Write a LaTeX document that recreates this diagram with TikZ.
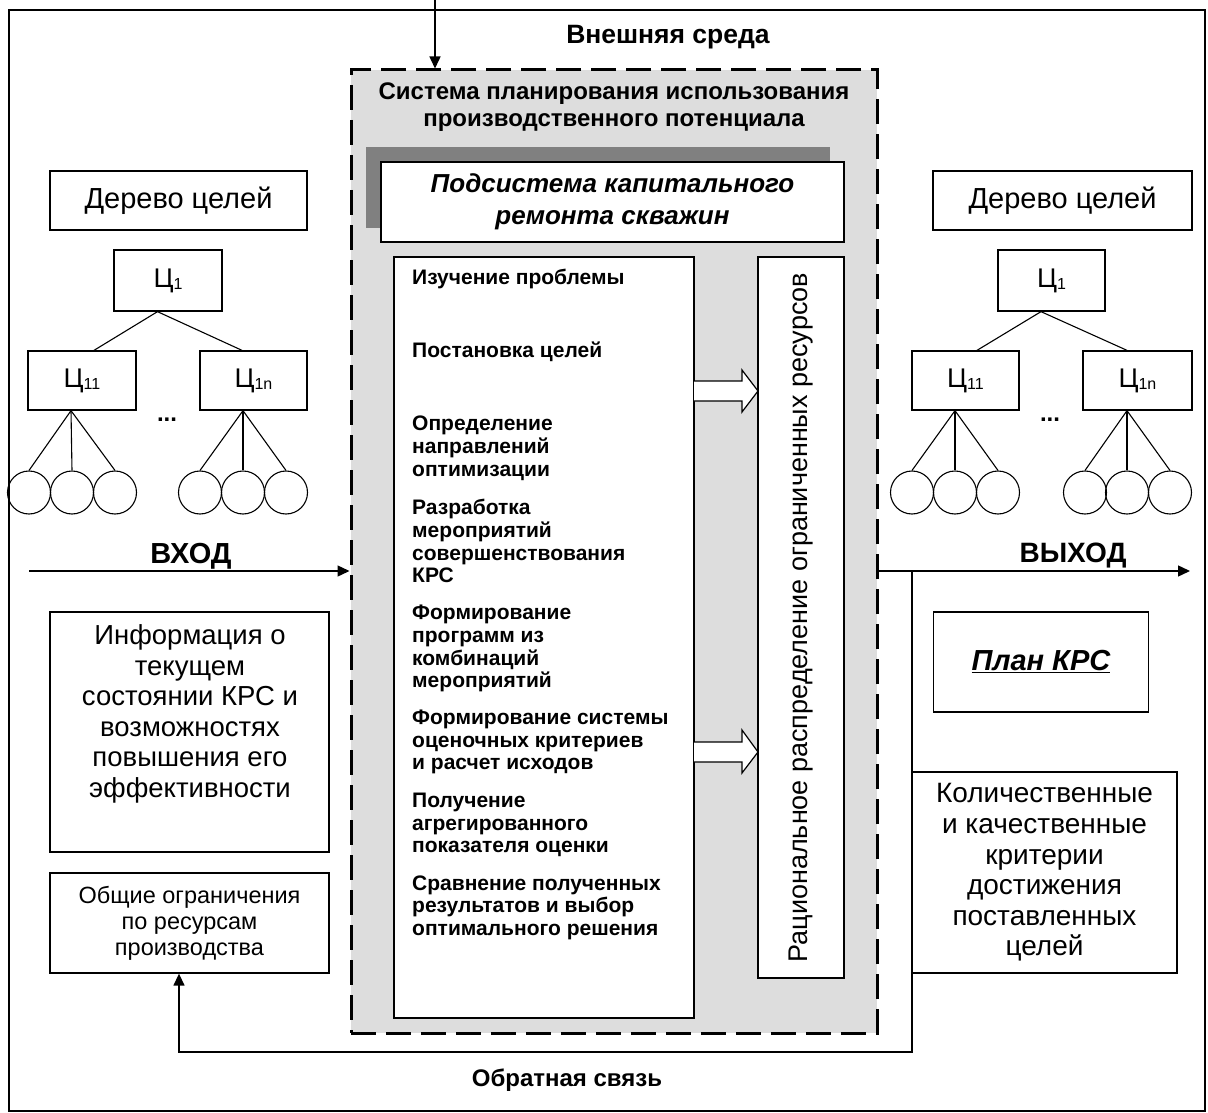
\documentclass[tikz,border=0pt]{standalone}
\usepackage{fontspec}
\setmainfont{Liberation Sans}
\usetikzlibrary{arrows.meta}
\newcommand\tsub[1]{\raisebox{-2pt}{\fontsize{16}{16}\selectfont #1}}
\definecolor{sysgray}{HTML}{DDDDDD}
\definecolor{shadowgray}{HTML}{808080}
\begin{document}
\begin{tikzpicture}[x=1pt,y=-1pt,
  box/.style={draw,line width=1.3pt,fill=white,inner sep=0pt,align=center},
  tree/.style={line width=1.1pt},
  arr/.style={line width=1.4pt,-{Triangle[length=12pt,width=11pt]}},
  leaf/.style={draw,circle,line width=1.1pt,minimum size=43pt,inner sep=0pt},
  cbox/.style={box,minimum height=60pt,font=\fontsize{27}{30}\selectfont},
  bigbold/.style={font=\fontsize{24}{27}\selectfont\bfseries,align=center,inner sep=0pt},
  listtxt/.style={anchor=west,inner sep=0pt,text height=15pt,text depth=0pt,font=\fontsize{21}{23}\selectfont\bfseries},
]
\useasboundingbox (0,0) rectangle (1208,1113);
% outer frame
\draw[line width=1.6pt] (9,10) rectangle (1205,1111);

% system (dashed)
\node[draw,dash pattern=on 25pt off 10pt,line width=3pt,fill=sysgray,
      minimum width=526pt,minimum height=963pt,inner sep=0pt] (sys) at (614,551.5) {};
\node[bigbold,font=\fontsize{26.5}{30}\selectfont\bfseries] (env) at (668,37) {Внешняя среда};
\node[bigbold] (title) at (614,107) {Система планирования использования\\производственного потенциала};

% subsystem with shadow
\fill[shadowgray] (366,147) rectangle (830,228);
\node[box,minimum width=463pt,minimum height=80pt,
      font=\fontsize{26}{32}\selectfont\bfseries\itshape] (sub) at (612.5,202) {Подсистема капитального\\ремонта скважин};

% list box and resources box
\node[box,minimum width=300pt,minimum height=761pt] (list) at (544,637.5) {};
\node[box,minimum width=86pt,minimum height=721pt] (res) at (801,617.5) {};
\node[rotate=90,inner sep=0pt,font=\fontsize{27}{30}\selectfont] (restxt) at (801,617.5)
  {Рациональное распределение ограниченных ресурсов};

\foreach \n/\yy/\t in {
  1/277/Изучение проблемы,
  2/350/Постановка целей,
  3/423/Определение,
  4/446/направлений,
  5/469/оптимизации,
  6/507/Разработка,
  7/530/мероприятий,
  8/553/совершенствования,
  9/575/КРС,
  10/612/Формирование,
  11/635/программ из,
  12/658/комбинаций,
  13/680/мероприятий,
  14/717/Формирование системы,
  15/740/оценочных критериев,
  16/762/и расчет исходов,
  17/800/Получение,
  18/823/агрегированного,
  19/845/показателя оценки,
  20/883/Сравнение полученных,
  21/905/результатов и выбор,
  22/928/оптимального решения}
  \node[listtxt] (l\n) at (412,\yy) {\t};

% block arrows
\draw[line width=1.2pt,fill=white] (694,381) -- (742,381) -- (742,370) -- (758,391)
   -- (742,412) -- (742,401) -- (694,401);
\draw[line width=1.2pt,fill=white] (694,742) -- (742,742) -- (742,730) -- (758,752)
   -- (742,773) -- (742,762) -- (694,762);

% left tree
\node[box,minimum width=257pt,minimum height=59pt,font=\fontsize{29}{32}\selectfont] (ltree) at (178.5,200.5) {Дерево целей};
\node[cbox,minimum width=108pt,minimum height=61pt] (lc1) at (168,280.5) {Ц\tsub{1}};
\node[cbox,minimum width=108pt,minimum height=59pt] (lc11) at (82,380.5) {Ц\tsub{11}};
\node[cbox,minimum width=107pt,minimum height=59pt] (lc1n) at (253.5,380.5) {Ц\tsub{1n}};
\node[font=\fontsize{24}{24}\selectfont\bfseries,inner sep=0pt] (ldots) at (167,420) {...};
\node[leaf] (la1) at (29,492.5) {};
\node[leaf] (la2) at (72,492.5) {};
\node[leaf] (la3) at (115,492.5) {};
\node[leaf] (lb1) at (200,492.5) {};
\node[leaf] (lb2) at (243,492.5) {};
\node[leaf] (lb3) at (286,492.5) {};
\draw[tree] ([xshift=-10.5pt]lc1.south) -- ([xshift=12pt]lc11.north);
\draw[tree] ([xshift=-10.5pt]lc1.south) -- ([xshift=-11.5pt]lc1n.north);
\foreach \c in {la1,la2,la3} \draw[tree] ([xshift=-11pt]lc11.south) -- (\c.north);
\foreach \c in {lb1,lb2,lb3} \draw[tree] ([xshift=-10.5pt]lc1n.south) -- (\c.north);

% right tree
\node[box,minimum width=259pt,minimum height=59pt,font=\fontsize{29}{32}\selectfont] (rtree) at (1062.5,200.5) {Дерево целей};
\node[cbox,minimum width=107pt,minimum height=61pt] (rc1) at (1051.5,280.5) {Ц\tsub{1}};
\node[cbox,minimum width=107pt,minimum height=59pt] (rc11) at (965.5,380.5) {Ц\tsub{11}};
\node[cbox,minimum width=109pt,minimum height=59pt] (rc1n) at (1137.5,380.5) {Ц\tsub{1n}};
\node[font=\fontsize{24}{24}\selectfont\bfseries,inner sep=0pt] (rdots) at (1050,420) {...};
\node[leaf] (ra1) at (912,492.5) {};
\node[leaf] (ra2) at (955,492.5) {};
\node[leaf] (ra3) at (998,492.5) {};
\node[leaf] (rb1) at (1085,492.5) {};
\node[leaf] (rb2) at (1127,492.5) {};
\node[leaf] (rb3) at (1170,492.5) {};
\draw[tree] ([xshift=-10.5pt]rc1.south) -- ([xshift=11.5pt]rc11.north);
\draw[tree] ([xshift=-10.5pt]rc1.south) -- ([xshift=-10.5pt]rc1n.north);
\foreach \c in {ra1,ra2,ra3} \draw[tree] ([xshift=-10.5pt]rc11.south) -- (\c.north);
\foreach \c in {rb1,rb2,rb3} \draw[tree] ([xshift=-10.5pt]rc1n.south) -- (\c.north);

% input / output labels
\node[font=\fontsize{29}{32}\selectfont\bfseries,inner sep=0pt] (vhod) at (191,556) {ВХОД};
\node[font=\fontsize{28}{31}\selectfont\bfseries,inner sep=0pt] (vyhod) at (1073,556) {ВЫХОД};

% left boxes
\node[box,minimum width=279pt,minimum height=240pt] (info) at (189.5,732) {};
\node[inner sep=0pt,align=center,font=\fontsize{27.5}{30.5}\selectfont] (infotxt) at (190,714)
  {Информация о\\текущем\\состоянии КРС и\\возможностях\\повышения его\\эффективности};
\node[box,minimum width=279pt,minimum height=100pt,font=\fontsize{23.5}{26}\selectfont] (gen) at (189.5,923)
  {Общие ограничения\\по ресурсам\\производства};

% right boxes
\node[box,minimum width=215pt,minimum height=100pt,font=\fontsize{29}{32}\selectfont\bfseries\itshape] (plan) at (1041,662) {\underline{План КРС}};
\node[box,minimum width=265pt,minimum height=201pt,font=\fontsize{28}{30.6}\selectfont] (crit) at (1044.5,872.5)
  {Количественные\\и качественные\\критерии\\достижения\\поставленных\\целей};

% connectors
\coordinate (envS) at (435,0);
\draw[arr] (envS) -- (envS |- sys.north);
\coordinate (inS) at (29,571);
\draw[arr] (inS) -- (sys.west |- inS);
\coordinate (outT) at (1190,571);
\draw[arr] (sys.east |- outT) -- (outT);
\coordinate (fbS) at (912,571);
\coordinate (fbR) at (912,1052);
\coordinate (fbL) at (179,1052);
\draw[arr] (fbS) -- (fbR) -- (fbL) -- (fbL |- gen.south);
\node[bigbold] (fbtxt) at (567,1080) {Обратная связь};
\end{tikzpicture}
\end{document}
